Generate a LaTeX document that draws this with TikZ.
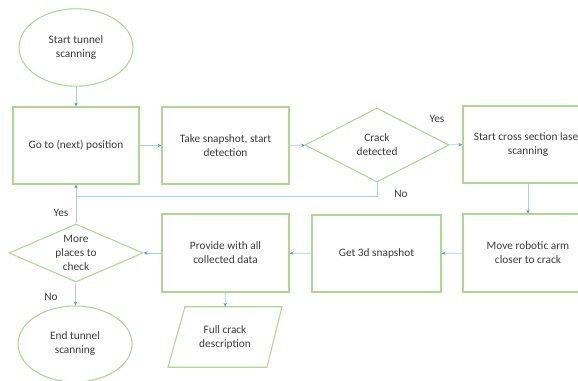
\documentclass[tikz,border=0pt]{standalone}
\usepackage{fontspec}
\setmainfont{Carlito}
\usetikzlibrary{shapes.geometric,arrows.meta,calc}
\definecolor{boxgreen}{HTML}{B0D595}
\definecolor{lineblue}{HTML}{A9CDEE}
\definecolor{tipblue}{HTML}{5B9BD5}
\definecolor{txt}{HTML}{3A3A3A}
\tikzset{
  every node/.style={text=txt, font=\fontsize{8.5}{10.5}\selectfont, align=center, inner sep=0pt},
  procbox/.style={draw=boxgreen, line width=0.8pt, rectangle},
  termell/.style={draw=boxgreen, line width=0.8pt, ellipse},
  decis/.style={draw=boxgreen, line width=0.8pt, diamond, aspect=2},
  conn/.style={draw=lineblue, line width=0.6pt, -{Stealth[length=3pt,width=2.6pt,color=tipblue]}},
  plainconn/.style={draw=lineblue, line width=0.6pt},
  lbl/.style={font=\fontsize{8.5}{10.5}\selectfont}
}
\begin{document}
\begin{tikzpicture}[x=0.75pt,y=-0.75pt]
\useasboundingbox (0,0) rectangle (578,381);
\clip (0,0) rectangle (578,381);
\node[termell, minimum width=85.5pt, minimum height=58pt] (start) at (76,47.5) {Start tunnel\\scanning};
\node[procbox, minimum width=94.5pt, minimum height=57.75pt] (go) at (76,145.5) {Go to (next) position};
\node[procbox, minimum width=95.25pt, minimum height=57.75pt] (snap) at (225.5,145.5) {Take snapshot, start\\detection};
\node[decis, minimum width=108pt, minimum height=55.5pt] (crack) at (377,145) {Crack\\detected};
\node[procbox, minimum width=97.5pt, minimum height=57.75pt] (cross) at (528,144.5) {Start cross section laser\\scanning};
\node[procbox, minimum width=97.5pt, minimum height=58.5pt] (move) at (528,253) {Move robotic arm\\closer to crack};
\node[procbox, minimum width=96.75pt, minimum height=57.75pt] (get) at (376.5,253.5) {Get 3d snapshot};
\node[procbox, minimum width=95.25pt, minimum height=58.5pt] (prov) at (225.5,253) {Provide with all\\collected data};
\node[decis, minimum width=100.5pt, minimum height=43.5pt] (more) at (76,253) {More\\places to\\check};
\node[termell, minimum width=85.5pt, minimum height=57pt] (end) at (75,344) {End tunnel\\scanning};
\node[minimum width=73.5pt, minimum height=45pt] (full) at (225,337) {Full crack\\description};
\draw[draw=boxgreen, line width=0.8pt]
  ($(full.north)+(-40,0)$) -- ($(full.north)+(57,0)$) -- ($(full.south)+(42,0)$) -- ($(full.south)+(-57,0)$) -- cycle;
\coordinate (j) at (76,196);
\draw[conn] (start) -- (go);
\draw[conn] (go) -- (snap);
\draw[conn] (snap) -- (crack);
\draw[conn] (crack) -- (cross);
\draw[conn] (cross) -- (move);
\draw[conn] (move) -- (get);
\draw[conn] (get) -- (prov);
\draw[conn] (prov) -- (more);
\draw[conn] (more) -- (end);
\draw[conn] (prov) -- (full);
\draw[conn] (crack.south) |- (j) -- (go.south);
\draw[plainconn] (more.north) -- (j);
\node[lbl] (yes1) at (437,119) {Yes};
\node[lbl] (no1) at (401,194) {No};
\node[lbl] (yes2) at (61,213) {Yes};
\node[lbl] (no2) at (51,297) {No};
\end{tikzpicture}
\end{document}
